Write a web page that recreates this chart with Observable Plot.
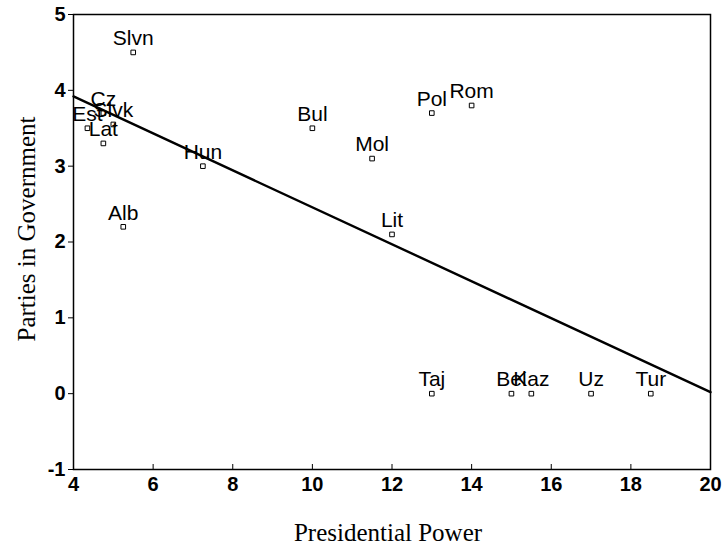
<!DOCTYPE html>
<html>
<head>
<meta charset="utf-8">
<script src="https://cdn.jsdelivr.net/npm/d3@7"></script>
<script src="https://cdn.jsdelivr.net/npm/@observablehq/plot@0.6"></script>
<style>
  html, body { margin: 0; padding: 0; background: #fff; }
  #chart svg { display: block; }
</style>
</head>
<body>
<div id="chart"></div>
<script>
const countries = ["Slvn","Cz","Est","Slvk","Lat","Hun","Alb","Bul","Mol","Pol","Rom","Lit","Taj","Bel","Kaz","Uz","Tur"];
const presidentialPower = [5.5, 4.75, 4.35, 5.0, 4.75, 7.25, 5.25, 10, 11.5, 13, 14, 12, 13, 15, 15.5, 17, 18.5];
const partiesInGov = [4.5, 3.7, 3.5, 3.55, 3.3, 3.0, 2.2, 3.5, 3.1, 3.7, 3.8, 2.1, 0, 0, 0, 0, 0];
const fitX = [4, 20];
const fitY = [3.92, 0.02];
const xTicks = [4, 6, 8, 10, 12, 14, 16, 18, 20];
const yTicks = [-1, 0, 1, 2, 3, 4, 5];

const pts = countries.map((c, i) => ({name: c, x: presidentialPower[i], y: partiesInGov[i]}));
const fit = fitX.map((x, i) => ({x, y: fitY[i]}));

const sans = "Liberation Sans, Arial, sans-serif";
const serif = "Liberation Serif, Times New Roman, serif";

const chart = Plot.plot({
  width: 722,
  height: 547,
  marginLeft: 73,
  marginRight: 12,
  marginTop: 14,
  marginBottom: 78,
  style: {background: "#fff", color: "#000", fontFamily: sans},
  x: {domain: [4, 20]},
  y: {domain: [-1, 5]},
  marks: [
    Plot.frame({stroke: "#000", strokeWidth: 1.5}),
    Plot.line(fit, {x: "x", y: "y", stroke: "#000", strokeWidth: 2.4}),
    Plot.dot(pts, {x: "x", y: "y", symbol: "square", r: 2.6, stroke: "#000", fill: "#fff", strokeWidth: 1}),
    Plot.text(pts, {x: "x", y: "y", text: "name", dy: -14, fontSize: 21, fill: "#000", fontFamily: sans}),
    Plot.axisX({ticks: xTicks, tickSize: -5, tickPadding: 12, fontSize: 20, fontWeight: "bold", fontFamily: sans, label: null, tickFormat: d => String(d)}),
    Plot.axisY({ticks: yTicks, tickSize: 5, tickPadding: 3, fontSize: 20, fontWeight: "bold", fontFamily: sans, label: null, tickFormat: d => String(d)}),
    Plot.text(["Presidential Power"], {frameAnchor: "bottom", textAnchor: "middle", dx: -4, dy: 71, fontSize: 25, fontFamily: serif, fill: "#000"}),
    Plot.text(["Parties in Government"], {frameAnchor: "left", textAnchor: "middle", dx: -47, dy: -13, rotate: -90, fontSize: 25, fontFamily: serif, fill: "#000"})
  ]
});
document.getElementById("chart").appendChild(chart);
</script>
</body>
</html>
